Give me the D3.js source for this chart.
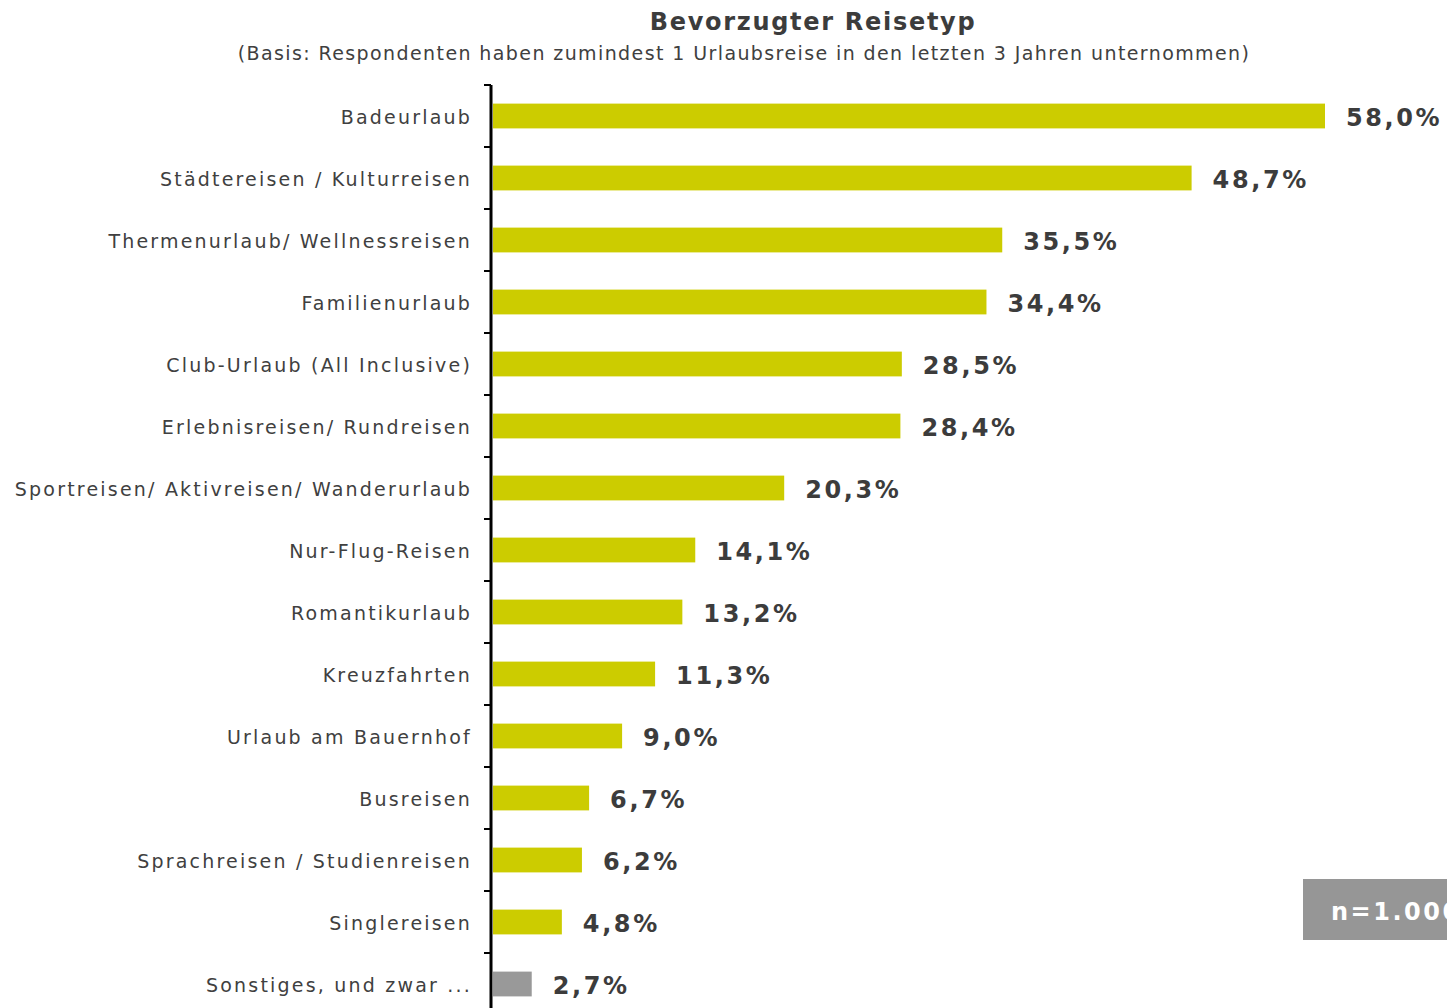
<!DOCTYPE html>
<html>
<head>
<meta charset="utf-8">
<script src="https://cdn.jsdelivr.net/npm/d3@7"></script>
<style>
  body { margin: 0; background: #fff; }
  svg { display: block; font-family: "DejaVu Sans", Verdana, sans-serif; }
</style>
</head>
<body>
<div id="chart"></div>
<script>
const categories = [
  'Badeurlaub',
  'Städtereisen / Kulturreisen',
  'Thermenurlaub/ Wellnessreisen',
  'Familienurlaub',
  'Club-Urlaub (All Inclusive)',
  'Erlebnisreisen/ Rundreisen',
  'Sportreisen/ Aktivreisen/ Wanderurlaub',
  'Nur-Flug-Reisen',
  'Romantikurlaub',
  'Kreuzfahrten',
  'Urlaub am Bauernhof',
  'Busreisen',
  'Sprachreisen / Studienreisen',
  'Singlereisen',
  'Sonstiges, und zwar ...'
];
const values = [58.0, 48.7, 35.5, 34.4, 28.5, 28.4, 20.3, 14.1, 13.2, 11.3, 9.0, 6.7, 6.2, 4.8, 2.7];
const valueLabels = ['58,0%', '48,7%', '35,5%', '34,4%', '28,5%', '28,4%', '20,3%', '14,1%',
  '13,2%', '11,3%', '9,0%', '6,7%', '6,2%', '4,8%', '2,7%'];
const otherCategory = 'Sonstiges, und zwar ...';

const width = 1447, height = 1008;
const plotTop = 85, plotLeft = 493, step = 62;

const svg = d3.select('#chart')
  .append('svg')
  .attr('width', width)
  .attr('height', height);

const y = d3.scaleBand()
  .domain(categories)
  .range([plotTop, plotTop + step * categories.length])
  .paddingInner(0.6)
  .paddingOuter(0.3);

const x = d3.scaleLinear()
  .domain([0, 58])
  .range([plotLeft, 1325]);

// title
svg.append('text')
  .attr('x', 813)
  .attr('y', 30)
  .attr('text-anchor', 'middle')
  .attr('font-size', 24)
  .attr('font-weight', 'bold')
  .attr('letter-spacing', 1.7)
  .attr('fill', '#3c3c3c')
  .text('Bevorzugter Reisetyp');

svg.append('text')
  .attr('x', 744)
  .attr('y', 60)
  .attr('text-anchor', 'middle')
  .attr('font-size', 19)
  .attr('letter-spacing', 1.4)
  .attr('fill', '#404040')
  .text('(Basis: Respondenten haben zumindest 1 Urlaubsreise in den letzten 3 Jahren unternommen)');

// bars
const data = categories.map((c, i) => ({ cat: c, value: values[i], label: valueLabels[i] }));

svg.selectAll('rect.bar')
  .data(data)
  .join('rect')
  .attr('class', 'bar')
  .attr('x', x(0))
  .attr('y', d => y(d.cat))
  .attr('width', d => x(d.value) - x(0))
  .attr('height', y.bandwidth())
  .attr('fill', d => d.cat === otherCategory ? '#999999' : '#cccc00');

svg.selectAll('text.value')
  .data(data)
  .join('text')
  .attr('class', 'value')
  .attr('x', d => x(d.value) + 21)
  .attr('y', d => y(d.cat) + y.bandwidth() / 2 + 10)
  .attr('font-size', 24)
  .attr('font-weight', 'bold')
  .attr('letter-spacing', 2.6)
  .attr('fill', '#3c3c3c')
  .text(d => d.label);

svg.selectAll('text.cat')
  .data(data)
  .join('text')
  .attr('class', 'cat')
  .attr('x', 472)
  .attr('y', d => y(d.cat) + y.bandwidth() / 2 + 8)
  .attr('text-anchor', 'end')
  .attr('font-size', 19)
  .attr('letter-spacing', 2.2)
  .attr('fill', '#404040')
  .text(d => d.cat);

// axis line + ticks at band boundaries
const bounds = d3.range(categories.length + 1).map(i => y.range()[0] + i * y.step());
svg.selectAll('line.tick')
  .data(bounds)
  .join('line')
  .attr('class', 'tick')
  .attr('x1', 484)
  .attr('x2', 491)
  .attr('y1', d => d)
  .attr('y2', d => d)
  .attr('stroke', '#000')
  .attr('stroke-width', 2);

svg.append('line')
  .attr('x1', 491)
  .attr('x2', 491)
  .attr('y1', plotTop)
  .attr('y2', height)
  .attr('stroke', '#000')
  .attr('stroke-width', 3);

// sample size box
svg.append('rect')
  .attr('x', 1303)
  .attr('y', 879)
  .attr('width', 160)
  .attr('height', 61)
  .attr('fill', '#969696');

svg.append('text')
  .attr('x', 1331)
  .attr('y', 920)
  .attr('font-size', 24)
  .attr('font-weight', 'bold')
  .attr('letter-spacing', 2.5)
  .attr('fill', '#fff')
  .text('n=1.000');
</script>
</body>
</html>
